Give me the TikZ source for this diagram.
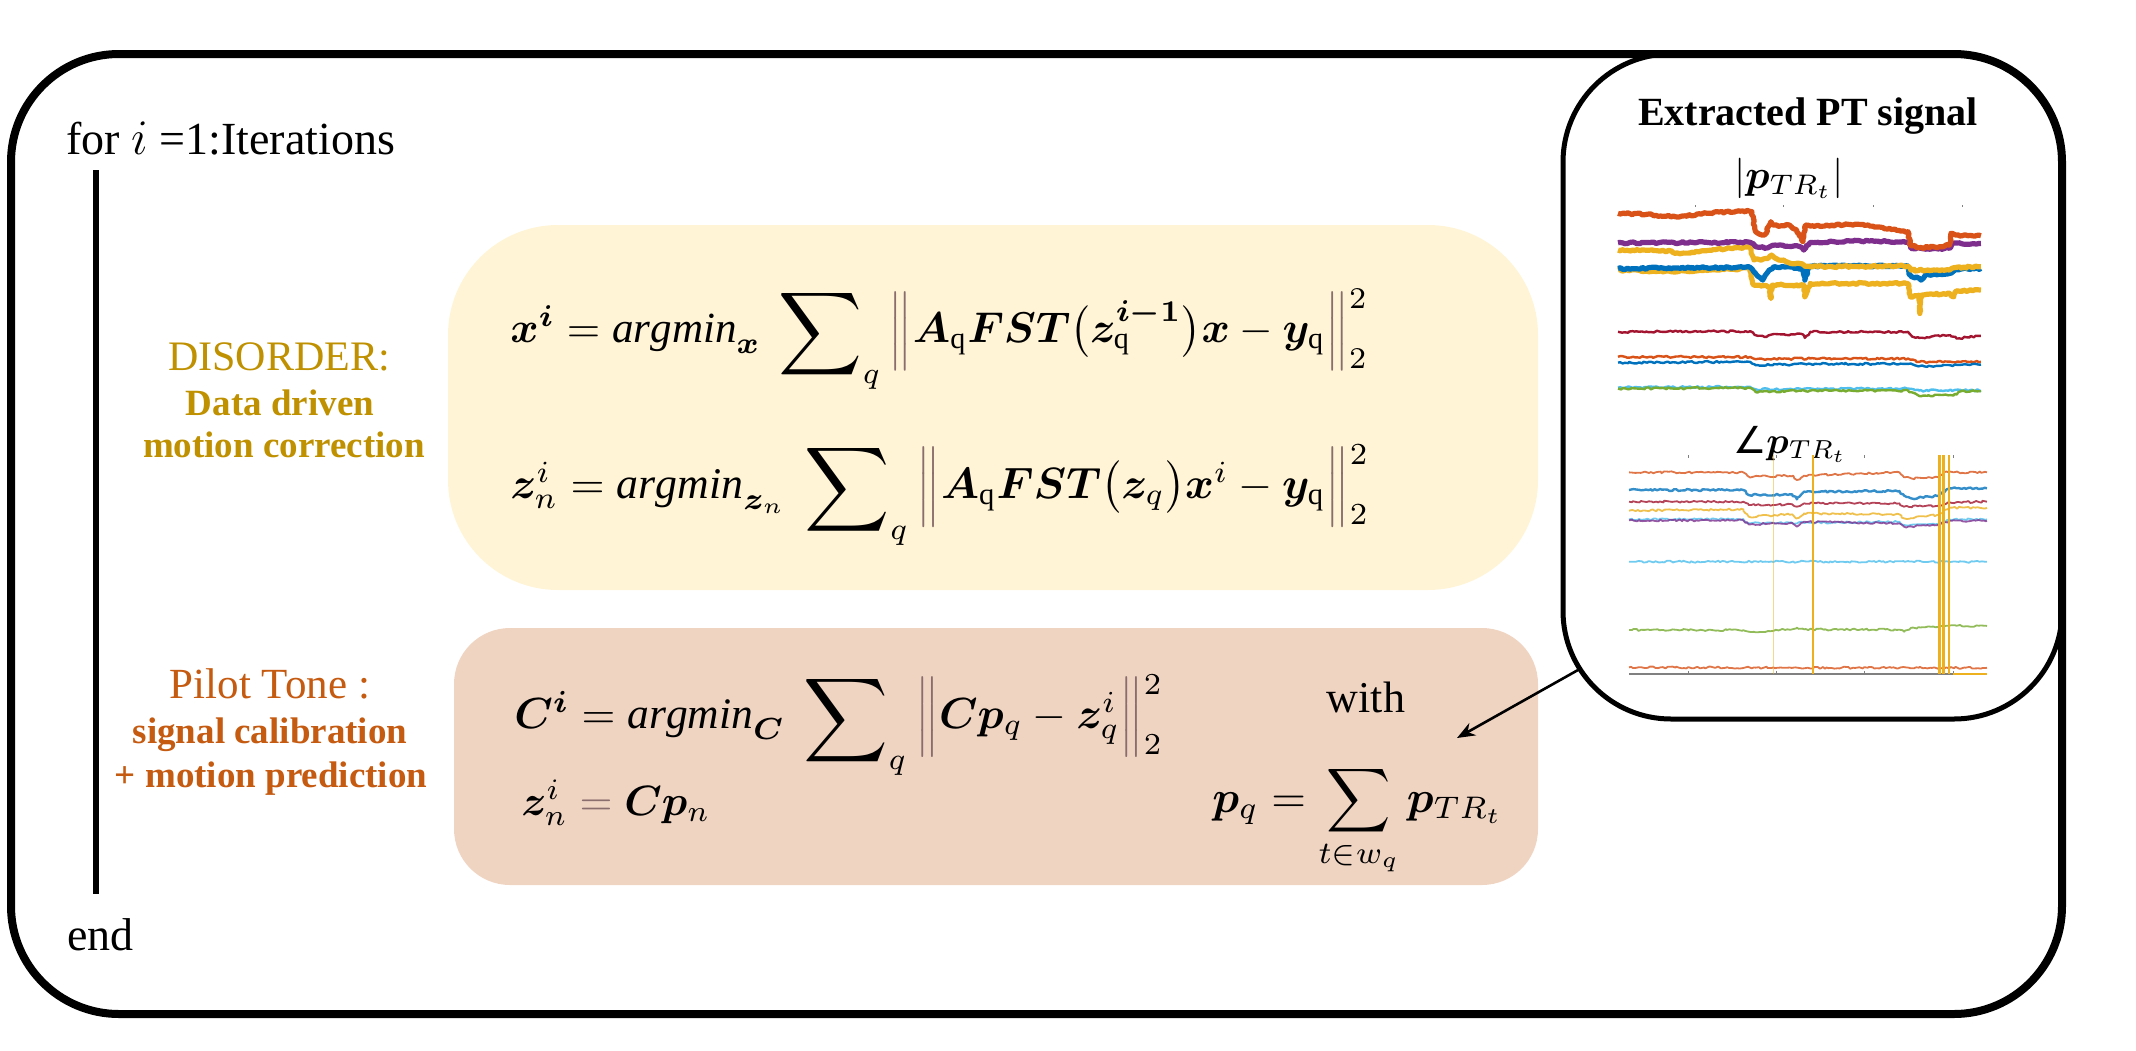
\documentclass[tikz,border=0pt]{standalone}
\usepackage{fontspec}
\setmainfont{Liberation Serif}
\newfontfamily\symf{DejaVu Sans}
\usepackage{amsmath,bm,graphicx}
\usetikzlibrary{arrows.meta,decorations.pathmorphing}
\definecolor{disc}{RGB}{191,144,0}
\definecolor{pilc}{RGB}{197,90,17}
\definecolor{ybox}{RGB}{255,244,214}
\definecolor{pbox}{RGB}{240,212,194}
\definecolor{normc}{RGB}{138,110,110}
\definecolor{mblue}{RGB}{0,114,189}
\definecolor{morange}{RGB}{217,83,25}
\definecolor{myellow}{RGB}{237,177,32}
\definecolor{mpurple}{RGB}{126,47,142}
\definecolor{mgreen}{RGB}{119,172,48}
\definecolor{mcyan}{RGB}{77,190,238}
\definecolor{mred}{RGB}{162,20,47}
\newcommand{\nrm}[1]{{\color{normc}\Bigl\|}#1{\color{normc}\Bigr\|}^{\smash{\raisebox{0.9ex}{$\scriptstyle 2$}}}_{\smash{\raisebox{-0.8ex}{$\scriptstyle 2$}}}}
\newcommand{\bsum}{\mathop{\raisebox{-0.35ex}{\scalebox{1.35}{$\displaystyle\sum$}}}\nolimits}
\begin{document}
\begin{tikzpicture}[x=0.5pt,y=-0.5pt,
  sig/.style={decorate,decoration={random steps,segment length=1.2pt,amplitude=0.5pt},line join=round},
  heavy/.style={sig,line width=2.6pt},
  lite/.style={sig,line width=1.2pt},
  faint/.style={sig,line width=0.9pt,opacity=0.8},
  tick/.style={gray,line width=0.5pt},
  vline/.style={myellow,line width=1.5pt},
  eqn/.style={anchor=base west,inner sep=0pt},
  lbl/.style={anchor=base,inner sep=0pt},
  arrowc/.style={line width=1.3pt,-{Stealth[length=9pt,width=7pt]}}]
\useasboundingbox (0,0) rectangle (2136,1050);
\pgfmathsetseed{7}
% boxes
\node[fill=ybox,rounded corners=55pt,minimum width=545pt,minimum height=182.5pt,inner sep=0pt] (ybx) at (993,407.5) {};
\node[fill=pbox,rounded corners=28pt,minimum width=542pt,minimum height=128.5pt,inner sep=0pt] (pbx) at (996,756.5) {};
\node[draw,fill=white,line width=2.5pt,rounded corners=54pt,minimum width=249.5pt,minimum height=332.5pt,inner sep=0pt] (panel) at (1812.5,386.5) {};
\node[draw,line width=4pt,rounded corners=54pt,minimum width=1025.5pt,minimum height=480pt,inner sep=0pt] (outer) at (1036.5,534) {};
% loop
\node[anchor=base west,inner sep=0pt,font=\fontsize{23}{27}\selectfont] (for) at (66,154) {for $i$ =1:Iterations};
\node[anchor=base west,inner sep=0pt,font=\fontsize{23}{27}\selectfont] (end) at (67,950) {end};
\coordinate (lt) at (96,170);
\coordinate (lb) at (96,894);
\draw[line width=3pt] (lt) -- (lb);
% labels
\node[lbl,text=disc,font=\fontsize{21}{25}\selectfont] (dis) at (279,370) {DISORDER:};
\node[lbl,text=disc,font=\bfseries\fontsize{18.5}{22}\selectfont] (dis2) at (280,415) {Data driven};
\node[lbl,text=disc,font=\bfseries\fontsize{18.5}{22}\selectfont] (dis3) at (284,457) {motion correction};
\node[lbl,text=pilc,font=\fontsize{21.5}{25}\selectfont] (pil) at (270,698) {Pilot Tone :};
\node[lbl,text=pilc,font=\bfseries\fontsize{18.5}{22}\selectfont] (pil2) at (270,743) {signal calibration};
\node[lbl,text=pilc,font=\bfseries\fontsize{18.5}{22}\selectfont] (pil3) at (271,787) {+ motion prediction};
% equations
\node[eqn] (eq1) at (510,342) {\resizebox{429pt}{!}{$\bm{x}^{\bm{i}} = \mathit{argmin}_{\bm{x}}\ \bsum_q \nrm{\bm{A}_{\mathrm{q}}\bm{FST}\bigl(\bm{z}_{\mathrm{q}}^{\bm{i-1}}\bigr)\bm{x}-\bm{y}_{\mathrm{q}}}$}};
\node[eqn] (eq2) at (510,498) {\resizebox{429.5pt}{!}{$\bm{z}_n^i = \mathit{argmin}_{\bm{z}_n}\ \bsum_q \nrm{\bm{A}_{\mathrm{q}}\bm{FST}\bigl(\bm{z}_q\bigr)\bm{x}^i-\bm{y}_{\mathrm{q}}}$}};
\node[eqn] (eq3) at (514,728) {\resizebox{324.5pt}{!}{$\bm{C}^{\bm{i}} = \mathit{argmin}_{\bm{C}}\ \bsum_q \nrm{\bm{Cp}_q-\bm{z}_q^i}$}};
\node[eqn] (eq4) at (521,815) {\resizebox{94.5pt}{!}{$\bm{z}_n^i \mathrel{\color{normc}=} \bm{Cp}_n$}};
\node[lbl,font=\fontsize{22}{26}\selectfont] (with) at (1366,712) {with};
\node[eqn] (eq5) at (1212,812) {\resizebox{145.5pt}{!}{$\bm{p}_q = \displaystyle\sum_{t\in w_q}\bm{p}_{TR_t}$}};
% panel content
\node[lbl,font=\bfseries\fontsize{20}{24}\selectfont] (pttitle) at (1808,125) {Extracted PT signal};
\node[lbl] (absp) at (1789,188) {\resizebox{55pt}{!}{$|\bm{p}_{TR_t}|$}};
\node[lbl] (angp) at (1790,453) {\resizebox{57pt}{!}{{\symf ∠}$\bm{p}_{TR_t}$}};
% plot 1
\begin{scope}[shift={(1618,205)}]
\begin{scope}[x=0.1786pt,y=-0.1669pt]
\foreach \u in {216,463,715,963} \draw[tick] (\u,0) -- (\u,6);
\draw[lite,mcyan] plot coordinates {(0,547) (370,545) (385,552) (812,550) (843,556) (1016,555)};
\draw[lite,mgreen] plot coordinates {(0,550) (370,548) (385,560) (538,556) (812,556) (843,572) (948,568) (960,558) (1016,558)};
\draw[lite,morange] plot coordinates {(0,455) (370,455) (385,462) (538,460) (812,460) (843,470) (1016,470)};
\draw[lite,mblue] plot coordinates {(0,472) (370,470) (385,480) (538,476) (812,476) (843,483) (1016,478)};
\draw[lite,mred] plot coordinates {(0,380) (370,378) (385,390) (410,395) (430,388) (518,388) (523,398) (538,380) (812,380) (820,390) (843,398) (930,390) (948,400) (1016,392)};
\draw[heavy,myellow] plot coordinates {(0,195) (150,200) (370,190) (380,240) (425,245) (428,280) (432,240) (520,240) (523,275) (538,235) (812,235) (818,275) (843,270) (845,325) (850,270) (928,265) (940,275) (948,257) (1016,255)};
\draw[heavy,mblue] plot coordinates {(0,190) (370,187) (385,205) (405,225) (420,200) (440,185) (518,190) (523,225) (538,183) (812,183) (818,210) (848,225) (860,210) (928,205) (945,192) (1016,190)};
\draw[heavy,myellow] plot coordinates {(0,135) (150,138) (160,145) (300,132) (370,125) (380,165) (420,160) (430,150) (450,165) (520,180) (538,185) (812,183) (820,195) (928,195) (940,188) (1016,185)};
\draw[heavy,mpurple] plot coordinates {(0,113) (370,112) (385,125) (420,128) (440,120) (510,125) (520,135) (538,112) (650,108) (812,110) (820,130) (928,130) (935,115) (1016,115)};
\draw[heavy,morange] plot coordinates {(0,25) (80,28) (160,35) (250,25) (350,18) (375,20) (385,80) (410,90) (428,50) (435,60) (458,62) (480,60) (500,75) (518,110) (525,60) (538,63) (650,58) (700,60) (800,78) (812,80) (818,120) (843,128) (900,125) (928,120) (932,85) (945,90) (1016,92)};
\end{scope}
\end{scope}
% plot 2
\begin{scope}[shift={(1629,455)}]
\begin{scope}[x=0.1786pt,y=-0.1667pt]
\foreach \u in {167,414,659,907} {\draw[tick] (\u,657) -- (\u,647); \draw[tick] (\u,0) -- (\u,8);}
\draw[gray,line width=0.6pt] (0,657) -- (1002,657);
\draw[faint,morange] plot coordinates {(0,637) (500,638) (1002,638)};
\draw[faint,mcyan] (0,320) -- (1002,320);
\draw[faint,mgreen] plot coordinates {(0,525) (320,525) (335,530) (400,528) (410,524) (460,522) (470,518) (490,523) (757,524) (770,530) (790,518) (867,516) (897,512) (1002,513)};
\draw[faint,mcyan] plot coordinates {(0,193) (320,192) (335,205) (757,200) (770,210) (867,206) (897,193) (1002,193)};
\draw[faint,mpurple] plot coordinates {(0,196) (320,196) (335,208) (457,204) (470,215) (490,200) (757,205) (770,215) (867,210) (897,197) (1002,197)};
\draw[faint,myellow] plot coordinates {(0,167) (320,163) (335,185) (457,178) (470,190) (490,175) (757,178) (770,190) (867,180) (897,158) (1002,158)};
\draw[faint,mred] plot coordinates {(0,140) (320,140) (335,150) (457,148) (470,155) (490,145) (757,145) (770,155) (867,152) (897,142) (1002,140)};
\draw[faint,mblue,line width=1.2pt] plot coordinates {(0,105) (320,105) (335,120) (457,118) (470,133) (490,110) (757,108) (770,122) (790,130) (867,122) (897,100) (1002,100)};
\draw[faint,morange] plot coordinates {(0,52) (320,52) (335,65) (460,62) (470,75) (490,62) (757,52) (770,67) (790,70) (867,67) (880,52) (1002,52)};
\draw[myellow,line width=0.6pt,opacity=0.5] (405,0) -- (405,657);
\draw[myellow,line width=1pt] (514,0) -- (514,657);
\draw[vline] (870,0) -- (870,657);
\draw[vline] (879,0) -- (879,657);
\draw[vline,line width=1.2pt] (895,0) -- (895,657);
\draw[myellow,line width=0.8pt] (907,657) -- (1002,657);
\end{scope}
\end{scope}
% arrow
\coordinate (asrc) at (1578,670);
\coordinate (adst) at (1457,738);
\draw[arrowc] (asrc) -- (adst);
\end{tikzpicture}
\end{document}
